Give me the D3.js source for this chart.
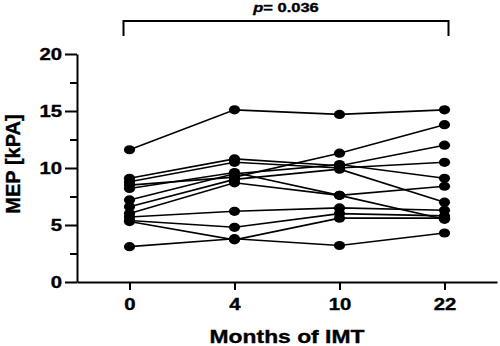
<!DOCTYPE html>
<html>
<head>
<meta charset="utf-8">
<script src="https://cdn.jsdelivr.net/npm/d3@7"></script>
<style>
  html, body { margin: 0; padding: 0; background: #fff; }
  svg { display: block; }
  text { font-family: "Liberation Sans", Arial, sans-serif; font-weight: bold; fill: #000; stroke: #000; stroke-width: 0.35px; }
</style>
</head>
<body>
<svg id="chart" width="500" height="346"></svg>
<script>
// ---- data ----
const months = ["0", "4", "10", "22"];
const yTicks = [0, 5, 10, 15, 20];
const yMinorTicks = [2.5, 7.5, 12.5, 17.5];
const s1  = [11.6, 15.1, 14.7, 15.1];
const s2  = [3.1, 3.8, 3.2, 4.3];
const s3  = [9.1, 10.8, 10.2, 12.0];
const s4  = [8.8, 10.5, 10.0, 10.5];
const s5  = [8.5, 9.2, 11.3, 13.8];
const s6  = [8.2, 9.6, 7.6, 8.4];
const s7  = [7.2, 9.5, 10.3, 9.1];
const s8  = [6.6, 9.0, 9.9, 7.0];
const s9  = [6.0, 8.7, 7.6, 5.5];
const s10 = [5.7, 6.2, 6.5, 6.3];
const s11 = [5.4, 4.8, 6.0, 5.8];
const s12 = [5.3, 3.7, 5.6, 5.6];
const subjects = [s1, s2, s3, s4, s5, s6, s7, s8, s9, s10, s11, s12];
const pLabel = "= 0.036";

// ---- layout ----
const svg = d3.select("#chart");
const x = d3.scalePoint().domain(months).range([77, 497]).padding(0.5);
const y = d3.scaleLinear().domain([0, 20]).range([282, 54]);
const STRETCH = 1.27;

// lines
const line = d3.line().x((d, i) => x(months[i])).y(d => y(d));
svg.append("g").selectAll("path").data(subjects).join("path")
  .attr("d", line).attr("fill", "none").attr("stroke", "#000").attr("stroke-width", 1.6);

// points
svg.append("g").selectAll("g").data(subjects).join("g")
  .selectAll("ellipse").data(d => d.map((v, i) => [months[i], v])).join("ellipse")
  .attr("cx", d => x(d[0])).attr("cy", d => y(d[1]))
  .attr("rx", 5.6).attr("ry", 4.6).attr("fill", "#000");

// y axis
const yAxis = svg.append("g").attr("transform", "translate(77,0)")
  .call(d3.axisLeft(y).tickValues(yTicks).tickSize(12).tickSizeOuter(0));
svg.append("g").attr("transform", "translate(77,0)")
  .call(d3.axisLeft(y).tickValues(yMinorTicks).tickSize(7).tickFormat("").tickSizeOuter(0))
  .call(g => g.select(".domain").remove());
svg.selectAll(".tick line, .domain").attr("stroke", "#000").attr("stroke-width", 2);
yAxis.selectAll("text")
  .attr("x", 0).attr("dy", "0.36em")
  .attr("transform", `translate(-15,0) scale(${STRETCH},1)`)
  .style("font-size", "16px").style("font-family", "'Liberation Sans', Arial, sans-serif").style("font-weight", "bold");

// x axis
const xAxis = svg.append("g").attr("transform", "translate(0,282)")
  .call(d3.axisBottom(x).tickSize(8).tickSizeOuter(0));
xAxis.selectAll(".tick line, .domain").attr("stroke", "#000").attr("stroke-width", 2);
xAxis.selectAll("text")
  .attr("y", 0).attr("dy", 0)
  .attr("transform", `translate(0,27.5) scale(${STRETCH},1)`)
  .style("font-size", "16px").style("font-family", "'Liberation Sans', Arial, sans-serif").style("font-weight", "bold");

// axis titles
svg.append("text")
  .attr("transform", `translate(287,343) scale(${STRETCH},1)`)
  .attr("text-anchor", "middle").style("font-size", "18px")
  .text("Months of IMT");
svg.append("text")
  .attr("transform", "translate(20,164) rotate(-90)")
  .attr("text-anchor", "middle").style("font-size", "20px")
  .text("MEP [kPA]");

// significance bracket
const bx0 = x(months[0]) - 6, bx1 = x(months[3]) + 4;
svg.append("path")
  .attr("d", `M${bx0},36V21H${bx1}V36`)
  .attr("fill", "none").attr("stroke", "#000").attr("stroke-width", 2);
const pt = svg.append("text")
  .attr("transform", `translate(286,12) scale(${STRETCH},1)`)
  .attr("text-anchor", "middle").style("font-size", "13px");
pt.append("tspan").style("font-style", "italic").text("p");
pt.append("tspan").text(pLabel);
</script>
</body>
</html>
